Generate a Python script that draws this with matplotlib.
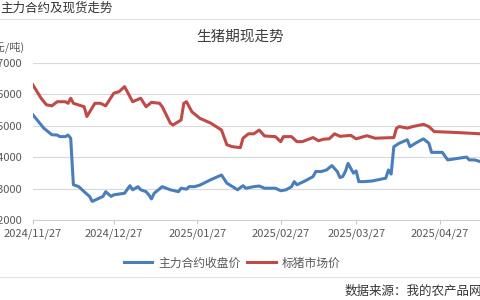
import datetime as dt
import matplotlib
matplotlib.use('Agg')
import matplotlib.pyplot as plt
import matplotlib.dates as mdates
from matplotlib.lines import Line2D

plt.rcParams['font.family'] = ['Noto Sans CJK SC', 'DejaVu Sans']

start = dt.date(2024, 11, 27)

# day offsets from 2024/11/27
fut_days = [0, 2, 4, 7, 9, 10, 12, 13, 14, 15, 17, 19, 21, 22, 24, 26, 27, 29, 30, 34,
            36, 37, 39, 40, 42, 43, 44, 45, 48, 51, 54, 55, 57, 58, 60, 62, 66, 70, 72, 76,
            77, 78, 79, 82, 84, 86, 90, 92, 94, 96, 97, 98, 101, 104, 105, 107, 109, 111, 113, 114,
            115, 116, 117, 119, 120, 121, 123, 126, 131, 132, 133, 134, 136, 139, 140, 142, 145, 147, 148, 152,
            154, 161, 162, 164, 166]
fut_vals = [15340, 15130, 14920, 14710, 14700, 14650, 14650, 14700, 14600, 13120, 13060, 12900, 12750, 12590, 12670, 12750, 12900, 12750, 12800, 12850,
            13090, 12960, 13060, 12960, 12900, 12800, 12670, 12850, 13060, 12960, 12900, 13010, 12980, 13060, 13060, 13110, 13280, 13430, 13170, 12960,
            13030, 13090, 13010, 13060, 13080, 13010, 13010, 12930, 12960, 13060, 13220, 13120, 13240, 13380, 13540, 13540, 13590, 13730, 13540, 13350,
            13380, 13540, 13800, 13490, 13560, 13220, 13220, 13240, 13330, 13590, 13460, 14330, 14440, 14550, 14330, 14440, 14580, 14440, 14150, 14150,
            13910, 14000, 13910, 13910, 13860]

spot_days = [0, 3, 5, 7, 9, 12, 13, 14, 15, 19, 20, 23, 25, 27, 30, 32, 34, 35, 37, 40,
             42, 44, 47, 48, 51, 52, 55, 56, 57, 59, 62, 66, 70, 72, 74, 77, 78, 80, 82, 84,
             86, 90, 92, 93, 96, 98, 100, 104, 106, 108, 110, 112, 114, 118, 120, 124, 127, 134, 135, 136,
             139, 141, 145, 147, 149, 155, 162, 166]
spot_vals = [16290, 15870, 15660, 15630, 15760, 15760, 15710, 15870, 15710, 15600, 15290, 15710, 15710, 15630, 16030, 16080, 16240, 16080, 15760, 15870,
             15600, 15740, 15710, 15600, 15080, 15020, 15180, 15710, 15760, 15440, 15230, 15080, 14860, 14390, 14330, 14300, 14600, 14740, 14740, 14860,
             14670, 14650, 14490, 14650, 14650, 14490, 14490, 14620, 14520, 14570, 14580, 14740, 14660, 14690, 14580, 14680, 14600, 14620, 14920, 14970,
             14920, 14970, 15040, 14970, 14810, 14790, 14760, 14740]

tick_dates = ['2024/11/27', '2024/12/27', '2025/01/27', '2025/02/27', '2025/03/27', '2025/04/27']
y_ticks = [12000, 13000, 14000, 15000, 16000, 17000]

def to_dates(days):
    return [start + dt.timedelta(days=d) for d in days]

fig = plt.figure(figsize=(4.8, 3.0), dpi=100)
ax = fig.add_axes([33/480, 1 - 220/300, 1 - 33/480, (220 - 62.7)/300])

l1, = ax.plot(to_dates(fut_days), fut_vals, color='#4a7ebb', lw=2.2, solid_joinstyle='round')
l2, = ax.plot(to_dates(spot_days), spot_vals, color='#be4b48', lw=2.2, solid_joinstyle='round')

ax.set_xlim(start, start + dt.timedelta(days=166))
ax.set_ylim(12000, 17000)
ax.set_yticks(y_ticks)
ax.set_xticks([dt.datetime.strptime(t, '%Y/%m/%d').date() for t in tick_dates])
ax.set_xticklabels(tick_dates)
ax.grid(axis='y', color='#d9d9d9', lw=0.8)
ax.set_axisbelow(True)
for s in ['left', 'right', 'top']:
    ax.spines[s].set_visible(False)
ax.spines['bottom'].set_color('#d0d0d0')
ax.tick_params(axis='y', length=0, pad=8, labelsize=8, labelcolor='#595959')
ax.tick_params(axis='x', length=3, color='#c8c8c8', pad=3, labelsize=8, labelcolor='#595959')

# header, title and unit
fig.text(0, 1 - 8/300, '主力合约及现货走势', fontsize=9, color='#333333', va='center', ha='left')
fig.add_artist(Line2D([0, 1], [1 - 19/300, 1 - 19/300], color='#e0e0e0', lw=0.8))
fig.text(240/480, 1 - 37/300, '生猪期现走势', fontsize=10.5, color='#404040', va='center', ha='center')
fig.text(24/480, 1 - 47/300, '(元/吨)', fontsize=8, color='#595959', va='center', ha='right')

fig.legend([l1, l2], ['主力合约收盘价', '标猪市场价'], loc='center', bbox_to_anchor=(232/480, 1 - 263/300),
           ncol=2, frameon=False, fontsize=8.5, handlelength=2.4, columnspacing=0.6, handletextpad=0.5,
           labelcolor='#595959')

fig.add_artist(Line2D([0, 1], [1 - 277/300, 1 - 277/300], color='#e0e0e0', lw=0.8))
fig.text(345/480, 1 - 291/300, '数据来源：我的农产品网', fontsize=9, color='#333333', va='center', ha='left')

fig.savefig('out.png', dpi=100)
